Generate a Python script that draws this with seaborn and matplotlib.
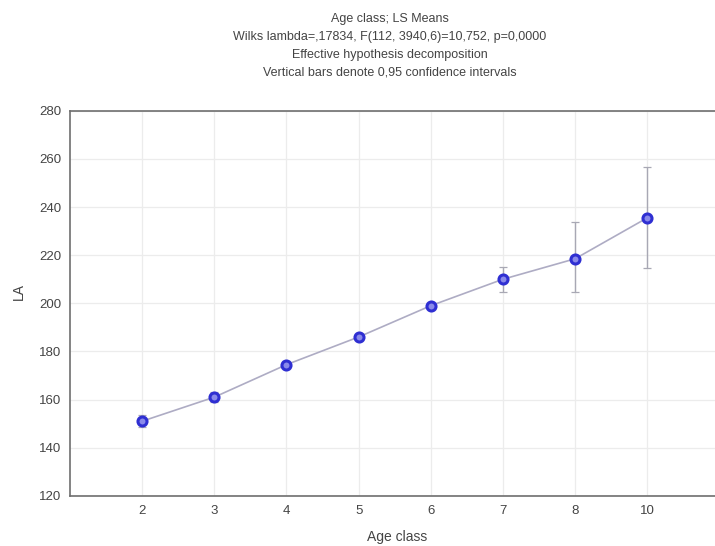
import matplotlib
matplotlib.use('Agg')
import matplotlib.pyplot as plt
import seaborn as sns
import pandas as pd
import numpy as np

# valores
clases = ['2', '3', '4', '5', '6', '7', '8', '10']
medias = [151.0, 161.0, 174.5, 186.0, 199.0, 210.0, 218.5, 235.5]
ic_inf = [148.5, 159.0, 173.0, 184.8, 197.8, 204.6, 204.6, 214.5]
ic_sup = [153.5, 163.0, 176.0, 187.2, 200.2, 215.2, 233.6, 256.8]

titulo = ['Age class; LS Means',
          'Wilks lambda=,17834, F(112, 3940,6)=10,752, p=0,0000',
          'Effective hypothesis decomposition',
          'Vertical bars denote 0,95 confidence intervals']

sns.set_style('white')
plt.rcParams['font.family'] = ['Liberation Sans', 'DejaVu Sans']

datos = pd.DataFrame({'Age class': clases, 'LA': medias})

fig = plt.figure(figsize=(7.15, 5.46), dpi=100)
ax = fig.add_axes([0.098, 0.092, 0.902, 0.705])

pos = np.arange(len(clases))
ax.errorbar(pos, medias,
            yerr=[np.array(medias) - np.array(ic_inf), np.array(ic_sup) - np.array(medias)],
            fmt='none', ecolor='#a8a8b4', elinewidth=1.0, capsize=3, capthick=0.9, zorder=2)
sns.pointplot(data=datos, x='Age class', y='LA', errorbar=None, ax=ax,
              color='#aeacc4', linewidth=1.2, markers='o', markersize=0, zorder=3)
ax.plot(pos, medias, 'o', markersize=6.5, markerfacecolor='#8a8aea',
        markeredgecolor='#2f2fd2', markeredgewidth=2.2, zorder=4, linestyle='none')

ax.set_xlim(-1, 7.94)
ax.set_ylim(120, 280)
ax.set_yticks(range(120, 281, 20))
ax.grid(True, color='#ececec', linewidth=0.9)
ax.set_axisbelow(True)

for lado in ['left', 'bottom', 'top']:
    ax.spines[lado].set_color('#6e6e6e')
    ax.spines[lado].set_linewidth(1.2)
ax.spines['right'].set_visible(False)

ax.tick_params(axis='both', labelsize=9.5, colors='#555555', length=3, width=0.8,
               labelcolor='#444444')
ax.set_xlabel('Age class', fontsize=10, color='#444444')
ax.set_ylabel('LA', fontsize=10, color='#444444')
ax.xaxis.set_label_coords(0.507, -0.09)
ax.yaxis.set_label_coords(-0.068, 0.53)

fig.text(0.545, 0.976, '\n'.join(titulo), ha='center', va='top', fontsize=9,
         color='#444444', linespacing=1.65)

fig.savefig('out.png', dpi=100)
